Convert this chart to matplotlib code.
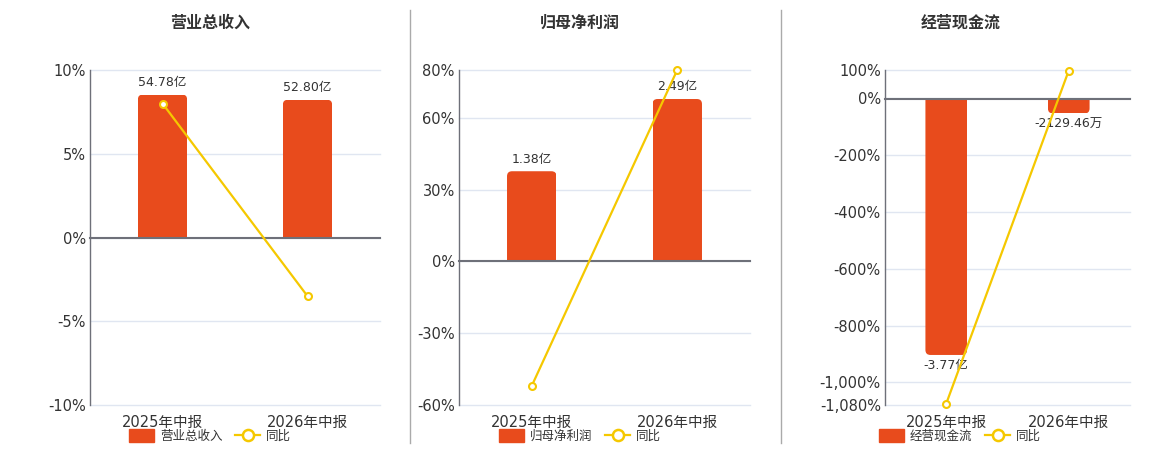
import matplotlib
matplotlib.use('Agg')
import matplotlib.pyplot as plt
from matplotlib.patches import Patch, FancyBboxPatch
from matplotlib.lines import Line2D

plt.rcParams['font.family'] = ['DejaVu Sans', 'Noto Sans CJK SC']

# data
categories = ['2025年中报', '2026年中报']
titles = ['营业总收入', '归母净利润', '经营现金流']
bar_values = [[54.78, 52.80], [1.38, 2.49], [-3.77, -0.212946]]  # 亿
bar_labels = [['54.78亿', '52.80亿'], ['1.38亿', '2.49亿'], ['-3.77亿', '-2129.46万']]
yoy = [[8.0, -3.5], [-52.0, 80.0], [-1075.0, 98.0]]  # %
pct_ticks = [[10, 5, 0, -5, -10], [80, 60, 30, 0, -30, -60],
             [100, 0, -200, -400, -600, -800, -1000, -1080]]
pct_lims = [(-10, 10), (-60, 80), (-1080, 100)]
bar_lims = [(-64.2, 64.2), (-2.213, 2.936), (-4.507, 0.427)]

BAR = '#E84B1C'
LINE = '#F5C800'
AXIS = '#6E7079'
GRID = '#E0E6F1'
TXT = '#333333'

# axes boxes in pixels (left, right), figure 1160x450
boxes = [(90, 380), (459, 750), (885, 1130)]
title_x = [210, 580, 961]
legend_x = [210, 580, 960]

fig = plt.figure(figsize=(11.6, 4.5), dpi=100)
W, H = 1160, 450


def round_bars(axb, bars, radius_px=5):
    # swap each bar for one with rounded corners at the far end
    p0 = axb.transData.transform((0, 0))
    p1 = axb.transData.transform((1, 1))
    ux = 1 / (p1[0] - p0[0])
    uy = 1 / (p1[1] - p0[1])
    for b in bars:
        x0, w = b.get_x(), b.get_width()
        y0, h = b.get_y(), b.get_height()
        ext = radius_px * uy * 2
        if h >= 0:
            ys, hs = y0 - ext, h + ext
        else:
            ys, hs = y0 + h, -h + ext
        rp = FancyBboxPatch((x0, ys), w, hs,
                            boxstyle=f'round,pad=0,rounding_size={radius_px * ux}',
                            mutation_aspect=uy / ux, fc=BAR, ec='none', zorder=2)
        axb.add_patch(rp)
        rp.set_clip_path(b)
        b.set_visible(False)


for i in range(3):
    l, r = boxes[i]
    ax = fig.add_axes([l / W, 1 - 405 / H, (r - l) / W, 335 / H])
    ax2 = ax.twinx()
    ax3 = ax.twinx()

    x = range(len(categories))
    ax.set_xlim(-0.5, 1.5)
    ax.set_ylim(*pct_lims[i])
    ax.set_yticks(pct_ticks[i])
    ax.set_yticklabels([f'{t:,}%' for t in pct_ticks[i]])
    ax.grid(axis='y', color=GRID, lw=1, clip_on=False)
    ax.set_axisbelow(True)
    for s in ['top', 'right', 'bottom']:
        ax.spines[s].set_visible(False)
    ax.spines['left'].set_color(AXIS)
    ax.spines['left'].set_linewidth(1)
    ax.tick_params(axis='y', length=0, labelsize=10.5, labelcolor=TXT, pad=3)

    ax.set_xticks(list(x))
    ax.set_xticklabels(categories)
    ax.set_xticks([0.5, 1.5], minor=True)
    ax.tick_params(axis='x', which='both', length=0, labelsize=10.5, labelcolor=TXT, pad=7)

    # bars
    ax2.set_ylim(*bar_lims[i])
    bars = ax2.bar(x, bar_values[i], width=0.34, color=BAR, zorder=2)
    round_bars(ax2, bars)
    ax2.set_yticks([])
    for s in ['top', 'right', 'left']:
        ax2.spines[s].set_visible(False)
    ax2.spines['bottom'].set_position(('data', 0))
    ax2.spines['bottom'].set_color(AXIS)
    ax2.spines['bottom'].set_linewidth(1.5)
    ax2.spines['bottom'].set_zorder(3)
    ax2.tick_params(axis='x', which='major', length=0, labelbottom=False)
    ax2.tick_params(axis='x', which='minor', length=5, width=1, color=AXIS, direction='out')
    for b, v, lab in zip(bars, bar_values[i], bar_labels[i]):
        cx = b.get_x() + b.get_width() / 2
        if v >= 0:
            ax2.annotate(lab, (cx, v), xytext=(0, 4), textcoords='offset points',
                         ha='center', va='bottom', fontsize=9, color=TXT)
        else:
            ax2.annotate(lab, (cx, v), xytext=(0, -3), textcoords='offset points',
                         ha='center', va='top', fontsize=9, color=TXT)

    # yoy line
    ax3.set_ylim(*pct_lims[i])
    ax3.plot(x, yoy[i], color=LINE, lw=1.6, marker='o', ms=5, mfc='white',
             mec=LINE, mew=1.5, clip_on=False)
    ax3.set_yticks([])
    for s in ax3.spines.values():
        s.set_visible(False)

    fig.text(title_x[i] / W, 1 - 23 / H, titles[i], ha='center', va='center',
             fontsize=11.5, fontweight='bold', color=TXT)

    handles = [Patch(facecolor=BAR, edgecolor=BAR, label=titles[i]),
               Line2D([], [], color=LINE, lw=1.6, marker='o', ms=8, mfc='white',
                      mec=LINE, mew=1.8, label='同比')]
    fig.legend(handles=handles, loc='center', bbox_to_anchor=(legend_x[i] / W, 1 - 436 / H),
               ncol=2, frameon=False, fontsize=9, handlelength=2.0, handleheight=1.2,
               columnspacing=1.0, handletextpad=0.5, labelcolor=TXT)

# separators between panels
for sx in [410, 781]:
    fig.add_artist(Line2D([sx / W, sx / W], [1 - 10 / H, 1 - 443 / H], color='#AAAAAA', lw=1))

fig.savefig('out.png', dpi=100)
